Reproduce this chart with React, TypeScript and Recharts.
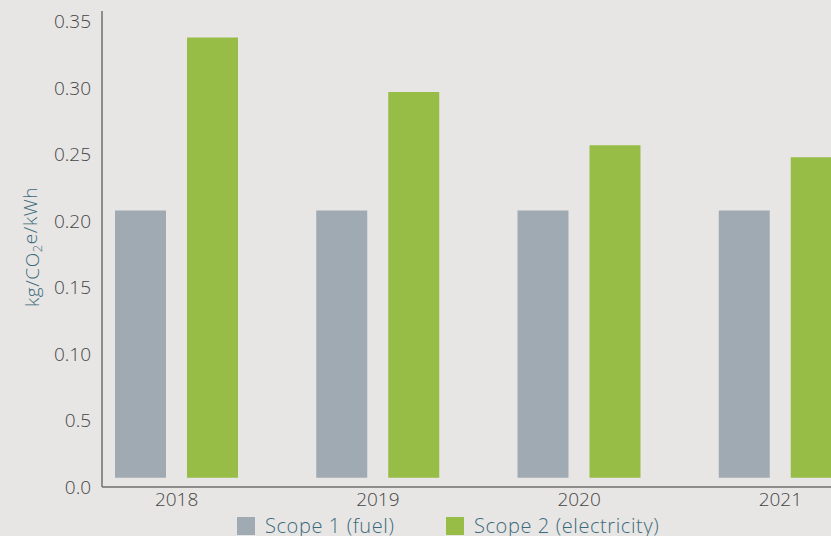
import React from 'react';
import { BarChart, Bar, XAxis, YAxis, Legend } from 'recharts';

const years = ['2018', '2019', '2020', '2021'];
const scope1Fuel = [0.208, 0.208, 0.208, 0.208];
const scope2Electricity = [0.338, 0.297, 0.257, 0.248];
const yTicks = [0, 0.05, 0.1, 0.15, 0.2, 0.25, 0.3, 0.35];
const yTickLabels = ['0.0', '0.5', '0.10', '0.15', '0.20', '0.25', '0.30', '0.35'];
const barFloor = 0.007;

const seriesNames = ['Scope 1 (fuel)', 'Scope 2 (electricity)'];
const seriesColors = ['#a0aab2', '#97bd47'];

const data = years.map((year, i) => ({
  year,
  scope1: [barFloor, scope1Fuel[i]],
  scope2: [barFloor, scope2Electricity[i]],
}));

const FONT = "'Open Sans', 'DejaVu Sans', sans-serif";
const BG = '#e7e6e4';
const TICK_COLOR = '#454545';
const TEAL = '#3b6a7b';
const AXIS_COLOR = '#6f6f6f';

const YLabel = (props: any) => {
  const vb = props.viewBox || { x: 0, y: 0, width: 0, height: 0 };
  const cx = vb.x + 32;
  const cy = vb.y + vb.height / 2 - 2;
  return (
    <text
      transform={`translate(${cx}, ${cy}) rotate(-90)`}
      textAnchor="middle"
      dominantBaseline="central"
      fill={TEAL}
      fontFamily={FONT}
      fontWeight={300}
      fontSize={19}
      letterSpacing={0.6}
    >
      <tspan>kg/CO</tspan>
      <tspan fontSize={13} dy="0.35em">2</tspan>
      <tspan dy="-0.35em">e/kWh</tspan>
    </text>
  );
};

const LegendContent = (props: any) => {
  const payload = props.payload || [];
  const lefts = [237, 446];
  return (
    <div style={{ position: 'relative', height: 24, width: '100%' }}>
      {payload.map((entry: any, i: number) => (
        <div
          key={entry.value}
          style={{
            position: 'absolute',
            left: lefts[i],
            top: 5,
            display: 'flex',
            alignItems: 'center',
            whiteSpace: 'nowrap',
          }}
        >
          <span
            style={{
              display: 'inline-block',
              width: 18,
              height: 18,
              background: entry.color,
              marginRight: 10,
            }}
          />
          <span
            style={{
              fontFamily: FONT,
              fontWeight: 300,
              fontSize: 20,
              letterSpacing: 0.6,
              color: TEAL,
              lineHeight: '18px',
            }}
          >
            {entry.value}
          </span>
        </div>
      ))}
    </div>
  );
};

export default function App() {
  return (
    <div
      style={{
        position: 'absolute',
        left: 0,
        top: 0,
        width: 831,
        height: 536,
        overflow: 'hidden',
        background: BG,
      }}
    >
      <BarChart
        width={881}
        height={536}
        data={data}
        margin={{ top: 11, right: 0, bottom: 0, left: 0 }}
        barSize={51}
        barGap={21}
      >
        <XAxis
          dataKey="year"
          padding={{ left: -26, right: 0 }}
          axisLine={{ stroke: AXIS_COLOR, strokeWidth: 1.5 }}
          tickLine={false}
          tickMargin={0}
          height={25}
          tick={{ fill: TICK_COLOR, fontFamily: FONT, fontWeight: 300, fontSize: 19 }}
        />
        <YAxis
          width={102}
          domain={[0, 0.358]}
          ticks={yTicks}
          interval={0}
          tickFormatter={(v: number) => yTickLabels[yTicks.indexOf(v)] ?? String(v)}
          axisLine={{ stroke: AXIS_COLOR, strokeWidth: 1.5 }}
          tickLine={false}
          tickMargin={5}
          tick={{ fill: TICK_COLOR, fontFamily: FONT, fontWeight: 300, fontSize: 19 }}
          label={<YLabel />}
        />
        <Legend verticalAlign="bottom" content={<LegendContent />} />
        <Bar
          dataKey="scope1"
          name={seriesNames[0]}
          fill={seriesColors[0]}
          isAnimationActive={false}
        />
        <Bar
          dataKey="scope2"
          name={seriesNames[1]}
          fill={seriesColors[1]}
          isAnimationActive={false}
        />
      </BarChart>
    </div>
  );
}
